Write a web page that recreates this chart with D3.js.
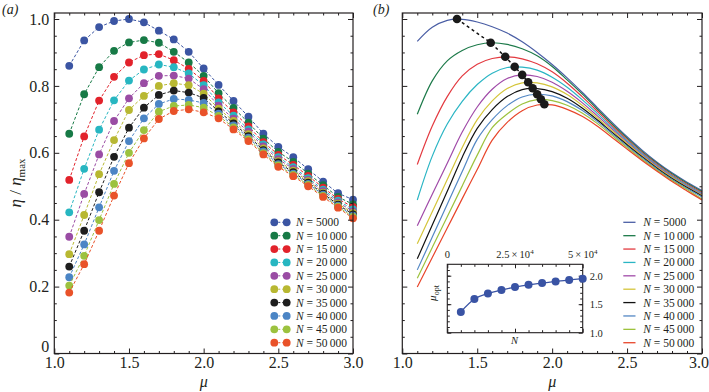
<!DOCTYPE html>
<html>
<head>
<meta charset="utf-8">
<script src="https://cdn.jsdelivr.net/npm/d3@7"></script>
<style>
  body { margin: 0; background: #fff; }
  svg text { font-family: "Liberation Serif", "Times New Roman", serif; fill: #231f20; }
  .tick line { stroke: #231f20; }
</style>
</head>
<body>
<svg id="chart" width="709" height="392"></svg>
<script>
// mu grid shared by both panels
const mu = [1.1, 1.2, 1.3, 1.4, 1.5, 1.6, 1.7, 1.8, 1.9, 2.0, 2.1, 2.2, 2.3, 2.4, 2.5, 2.6, 2.7, 2.8, 2.9, 3.0];
const nLabels = ['5000', '10\u2009000', '15\u2009000', '20\u2009000', '25\u2009000', '30\u2009000', '35\u2009000', '40\u2009000', '45\u2009000', '50\u2009000'];
const nValues = [5000, 10000, 15000, 20000, 25000, 30000, 35000, 40000, 45000, 50000];

// panel (a): simulated points
const a5000  = [0.860, 0.936, 0.976, 0.994, 1.000, 0.990, 0.965, 0.939, 0.902, 0.852, 0.803, 0.755, 0.708, 0.657, 0.618, 0.587, 0.551, 0.514, 0.479, 0.460];
const a10000 = [0.657, 0.775, 0.856, 0.905, 0.930, 0.937, 0.929, 0.902, 0.870, 0.830, 0.778, 0.734, 0.690, 0.642, 0.603, 0.573, 0.538, 0.503, 0.468, 0.446];
const a15000 = [0.519, 0.649, 0.756, 0.827, 0.870, 0.892, 0.895, 0.877, 0.851, 0.815, 0.763, 0.721, 0.679, 0.632, 0.594, 0.564, 0.531, 0.496, 0.462, 0.438];
const a20000 = [0.422, 0.552, 0.669, 0.757, 0.816, 0.849, 0.864, 0.856, 0.837, 0.802, 0.751, 0.711, 0.670, 0.625, 0.587, 0.557, 0.524, 0.490, 0.457, 0.431];
const a25000 = [0.349, 0.477, 0.595, 0.695, 0.763, 0.808, 0.830, 0.831, 0.822, 0.790, 0.741, 0.702, 0.663, 0.619, 0.581, 0.552, 0.519, 0.485, 0.452, 0.425];
const a30000 = [0.297, 0.414, 0.536, 0.638, 0.728, 0.770, 0.800, 0.808, 0.802, 0.777, 0.732, 0.695, 0.656, 0.613, 0.575, 0.547, 0.515, 0.481, 0.448, 0.420];
const a35000 = [0.260, 0.367, 0.482, 0.588, 0.675, 0.735, 0.773, 0.786, 0.780, 0.764, 0.724, 0.688, 0.650, 0.608, 0.571, 0.542, 0.511, 0.478, 0.445, 0.416];
const a40000 = [0.228, 0.326, 0.437, 0.546, 0.635, 0.703, 0.746, 0.761, 0.758, 0.749, 0.717, 0.682, 0.645, 0.604, 0.566, 0.538, 0.507, 0.475, 0.442, 0.412];
const a45000 = [0.203, 0.292, 0.399, 0.507, 0.600, 0.668, 0.723, 0.740, 0.743, 0.735, 0.710, 0.676, 0.640, 0.599, 0.562, 0.534, 0.504, 0.471, 0.439, 0.408];
const a50000 = [0.182, 0.267, 0.367, 0.472, 0.569, 0.643, 0.701, 0.725, 0.730, 0.721, 0.703, 0.670, 0.635, 0.595, 0.558, 0.530, 0.500, 0.468, 0.436, 0.404];

// panel (b): continuous curves
const b5000  = [0.933, 0.975, 0.996, 0.999, 0.991, 0.977, 0.958, 0.932, 0.900, 0.864, 0.824, 0.781, 0.736, 0.691, 0.648, 0.608, 0.572, 0.540, 0.512, 0.487];
const b10000 = [0.715, 0.815, 0.875, 0.906, 0.923, 0.929, 0.924, 0.911, 0.890, 0.858, 0.818, 0.776, 0.731, 0.686, 0.644, 0.604, 0.569, 0.537, 0.509, 0.484];
const b15000 = [0.565, 0.680, 0.768, 0.830, 0.865, 0.882, 0.887, 0.881, 0.866, 0.842, 0.808, 0.768, 0.725, 0.681, 0.640, 0.601, 0.566, 0.534, 0.506, 0.481];
const b20000 = [0.459, 0.590, 0.686, 0.754, 0.804, 0.838, 0.855, 0.856, 0.847, 0.826, 0.796, 0.759, 0.718, 0.676, 0.636, 0.598, 0.563, 0.531, 0.503, 0.478];
const b25000 = [0.382, 0.476, 0.569, 0.662, 0.737, 0.790, 0.822, 0.833, 0.828, 0.811, 0.784, 0.750, 0.711, 0.671, 0.632, 0.594, 0.560, 0.528, 0.500, 0.476];
const b30000 = [0.328, 0.424, 0.520, 0.616, 0.699, 0.755, 0.792, 0.809, 0.809, 0.797, 0.774, 0.742, 0.705, 0.666, 0.628, 0.591, 0.557, 0.526, 0.498, 0.474];
const b35000 = [0.283, 0.384, 0.485, 0.587, 0.673, 0.729, 0.768, 0.789, 0.792, 0.783, 0.763, 0.734, 0.699, 0.661, 0.624, 0.588, 0.554, 0.523, 0.496, 0.471];
const b40000 = [0.250, 0.348, 0.446, 0.544, 0.640, 0.699, 0.741, 0.767, 0.775, 0.770, 0.753, 0.727, 0.694, 0.657, 0.620, 0.585, 0.551, 0.520, 0.493, 0.468];
const b45000 = [0.225, 0.317, 0.409, 0.501, 0.593, 0.675, 0.716, 0.746, 0.759, 0.756, 0.742, 0.719, 0.688, 0.652, 0.616, 0.581, 0.548, 0.517, 0.490, 0.462];
const b50000 = [0.199, 0.287, 0.375, 0.463, 0.550, 0.638, 0.691, 0.726, 0.743, 0.743, 0.730, 0.709, 0.680, 0.646, 0.611, 0.577, 0.545, 0.514, 0.486, 0.459];

// peaks of the (b) curves = optimum mu (also the inset)
const muOpt  = [1.365, 1.59, 1.687, 1.75, 1.80, 1.84, 1.87, 1.90, 1.925, 1.948];
const etaOpt = [1.000, 0.929, 0.887, 0.857, 0.833, 0.811, 0.793, 0.775, 0.760, 0.745];

const xMajor = [1.0, 1.5, 2.0, 2.5, 3.0];
const yMajor = [0, 0.2, 0.4, 0.6, 0.8, 1.0];
const insetXLabels = [0, 25000, 50000];
const insetYMajor = [1.0, 1.5, 2.0];

const colorsA = ['#3b55a3', '#177a46', '#e2222b', '#27b6c1', '#9a4ca4', '#b8b832', '#1e1e1e', '#4b85c5', '#9cc23f', '#e95229'];
const colorsB = ['#4a5ea5', '#1d7a4a', '#e33a40', '#2ab5c4', '#a04aa8', '#d4c53a', '#111111', '#5387c4', '#9dc23d', '#e8452a'];

const seriesA = [a5000, a10000, a15000, a20000, a25000, a30000, a35000, a40000, a45000, a50000];
const seriesB = [b5000, b10000, b15000, b20000, b25000, b30000, b35000, b40000, b45000, b50000];

const svg = d3.select('#chart');
const ink = '#231f20';

const plotTop = 13, plotBottom = 353.5;
const yScale = d3.scaleLinear().domain([0, 1]).range([plotBottom, 19]);
const xA = d3.scaleLinear().domain([1, 3]).range([54.3, 353]);
const xB = d3.scaleLinear().domain([1, 3]).range([402.3, 702]);

const xMinor = d3.range(1.1, 3.0, 0.1).filter(v => Math.abs(v * 2 - Math.round(v * 2)) > 0.01);
const yMinor = d3.range(0.05, 1.0, 0.05).filter(v => Math.abs(v * 5 - Math.round(v * 5)) > 0.01);

function frame(x, labelsY, clipLast) {
  const g = svg.append('g');
  const left = x.range()[0], right = x.range()[1];
  const fmt = d => d === 0 ? '0' : d.toFixed(1);

  const xAxis = g.append('g').attr('transform', `translate(0,${plotBottom})`)
    .call(d3.axisBottom(x).tickValues(xMajor).tickSize(-5).tickPadding(3).tickFormat(d3.format('.1f')));
  g.append('g').attr('transform', `translate(0,${plotBottom})`)
    .call(d3.axisBottom(x).tickValues(xMinor).tickSize(-2.5).tickFormat(''));
  g.append('g').attr('transform', `translate(0,${plotTop})`)
    .call(d3.axisTop(x).tickValues(xMajor).tickSize(-5).tickFormat(''));
  g.append('g').attr('transform', `translate(0,${plotTop})`)
    .call(d3.axisTop(x).tickValues(xMinor).tickSize(-2.5).tickFormat(''));

  const yAxis = g.append('g').attr('transform', `translate(${left},0)`)
    .call(d3.axisLeft(yScale).tickValues(yMajor).tickSize(-5).tickPadding(5).tickFormat(labelsY ? fmt : ''));
  g.append('g').attr('transform', `translate(${left},0)`)
    .call(d3.axisLeft(yScale).tickValues(yMinor).tickSize(-2.5).tickFormat(''));
  g.append('g').attr('transform', `translate(${right},0)`)
    .call(d3.axisRight(yScale).tickValues(yMajor).tickSize(-5).tickFormat(''));
  g.append('g').attr('transform', `translate(${right},0)`)
    .call(d3.axisRight(yScale).tickValues(yMinor).tickSize(-2.5).tickFormat(''));

  g.selectAll('.domain').remove();
  g.selectAll('.tick text').attr('font-size', 16).attr('fill', ink);
  // the "0" sits just above the corner
  yAxis.selectAll('.tick text').filter(d => d === 0).attr('dy', '-0.12em');
  if (clipLast) {
    xAxis.selectAll('.tick text').filter(d => d === 3).attr('text-anchor', 'end').attr('dx', 6.5);
  }

  g.append('rect')
    .attr('x', left).attr('y', plotTop)
    .attr('width', right - left).attr('height', plotBottom - plotTop)
    .attr('fill', 'none').attr('stroke', ink).attr('stroke-width', 1.2);

  svg.append('text')
    .attr('x', (left + right) / 2).attr('y', 387)
    .attr('text-anchor', 'middle').attr('font-size', 16).attr('font-style', 'italic')
    .text('\u03bc');
}

function legendText(g, x, y, label) {
  const t = g.append('text').attr('x', x).attr('y', y).attr('dy', '0.35em').attr('font-size', 11.5);
  t.append('tspan').attr('font-style', 'italic').text('N');
  t.append('tspan').text(' = ' + label);
}

// ---------- panel (a) ----------
const chartA = svg.append('g');
const lineA = d3.line().x((d, i) => xA(mu[i])).y(d => yScale(d));

seriesA.forEach((s, k) => {
  chartA.append('path')
    .attr('d', lineA(s))
    .attr('fill', 'none')
    .attr('stroke', colorsA[k])
    .attr('stroke-width', 1)
    .attr('stroke-dasharray', '3,2');
  chartA.selectAll(null)
    .data(s)
    .enter()
    .append('circle')
    .attr('cx', (d, i) => xA(mu[i]))
    .attr('cy', d => yScale(d))
    .attr('r', 3.9)
    .attr('fill', colorsA[k]);
});

frame(xA, true, false);

const legA = svg.append('g');
nLabels.forEach((lab, k) => {
  const y = 222.3 + k * 13.38;
  legA.append('line').attr('x1', 274.3).attr('x2', 286.7).attr('y1', y).attr('y2', y)
    .attr('stroke', colorsA[k]).attr('stroke-dasharray', '2,2');
  legA.append('circle').attr('cx', 274.3).attr('cy', y).attr('r', 3.9).attr('fill', colorsA[k]);
  legA.append('circle').attr('cx', 286.7).attr('cy', y).attr('r', 3.9).attr('fill', colorsA[k]);
  legendText(legA, 296, y, lab);
});

const yLab = svg.append('text')
  .attr('transform', 'translate(21,183) rotate(-90)')
  .attr('text-anchor', 'middle')
  .attr('font-size', 17);
yLab.append('tspan').attr('font-style', 'italic').text('\u03b7');
yLab.append('tspan').text(' / ');
yLab.append('tspan').attr('font-style', 'italic').text('\u03b7');
yLab.append('tspan').attr('font-size', 11).attr('dy', 4).text('max');

svg.append('text').attr('x', 2).attr('y', 14).attr('font-size', 14).attr('font-style', 'italic').text('(a)');

// ---------- panel (b) ----------
const chartB = svg.append('g');
const lineB = d3.line().x((d, i) => xB(mu[i])).y(d => yScale(d)).curve(d3.curveCatmullRom.alpha(0.5));

seriesB.forEach((s, k) => {
  chartB.append('path')
    .attr('d', lineB(s))
    .attr('fill', 'none')
    .attr('stroke', colorsB[k])
    .attr('stroke-width', 1.2);
});

const peakLine = d3.line().x((d, i) => xB(muOpt[i])).y(d => yScale(d));
chartB.append('path')
  .attr('d', peakLine(etaOpt))
  .attr('fill', 'none')
  .attr('stroke', '#111')
  .attr('stroke-width', 1.5)
  .attr('stroke-dasharray', '3,3');
chartB.selectAll(null)
  .data(etaOpt)
  .enter()
  .append('circle')
  .attr('cx', (d, i) => xB(muOpt[i]))
  .attr('cy', d => yScale(d))
  .attr('r', 4.3)
  .attr('fill', '#1a1a1a');

frame(xB, false, true);

const legB = svg.append('g');
nLabels.forEach((lab, k) => {
  const y = 222.3 + k * 13.38;
  legB.append('line').attr('x1', 623.3).attr('x2', 635.5).attr('y1', y).attr('y2', y)
    .attr('stroke', colorsB[k]).attr('stroke-width', 1.3);
  legendText(legB, 643.3, y, lab);
});

svg.append('text').attr('x', 373).attr('y', 14).attr('font-size', 14).attr('font-style', 'italic').text('(b)');

// ---------- inset ----------
const inset = svg.append('g');
const ix = d3.scaleLinear().domain([0, 50000]).range([447.3, 582.7]);
const iy = d3.scaleLinear().domain([1.0, 2.2]).range([332.7, 264.3]);

inset.append('g').attr('transform', 'translate(0,264.3)')
  .call(d3.axisTop(ix).tickValues([0, 25000, 50000]).tickSize(-4).tickFormat(''));
inset.append('g').attr('transform', 'translate(0,264.3)')
  .call(d3.axisTop(ix).tickValues(d3.range(5000, 50000, 5000)).tickSize(-2.5).tickFormat(''));
inset.append('g').attr('transform', 'translate(0,332.7)')
  .call(d3.axisBottom(ix).tickValues([0, 25000, 50000]).tickSize(-4).tickFormat(''));
inset.append('g').attr('transform', 'translate(0,332.7)')
  .call(d3.axisBottom(ix).tickValues(d3.range(5000, 50000, 5000)).tickSize(-2.5).tickFormat(''));
inset.append('g').attr('transform', 'translate(447.3,0)')
  .call(d3.axisLeft(iy).tickValues(insetYMajor).tickSize(-4).tickFormat(''));
inset.append('g').attr('transform', 'translate(447.3,0)')
  .call(d3.axisLeft(iy).tickValues(d3.range(1.1, 2.2, 0.1)).tickSize(-2.5).tickFormat(''));
inset.append('g').attr('transform', 'translate(582.7,0)')
  .call(d3.axisRight(iy).tickValues(insetYMajor).tickSize(-4).tickPadding(7).tickFormat(d3.format('.1f')));
inset.append('g').attr('transform', 'translate(582.7,0)')
  .call(d3.axisRight(iy).tickValues(d3.range(1.1, 2.2, 0.1)).tickSize(-2.5).tickFormat(''));
inset.selectAll('.domain').remove();
inset.selectAll('.tick text').attr('font-size', 10.5).attr('fill', ink);

inset.append('rect')
  .attr('x', 447.3).attr('y', 264.3).attr('width', 135.4).attr('height', 68.4)
  .attr('fill', 'none').attr('stroke', ink).attr('stroke-width', 1.1);

insetXLabels.forEach(v => {
  const t = inset.append('text').attr('x', ix(v)).attr('y', 257.5)
    .attr('text-anchor', 'middle').attr('font-size', 10.5);
  if (v === 0) { t.text('0'); return; }
  t.append('tspan').text((v / 10000) + '\u2009\u00d7\u200910');
  t.append('tspan').attr('font-size', 7).attr('dy', -4).text('4');
});

const iLine = d3.line().x((d, i) => ix(nValues[i])).y(d => iy(d)).curve(d3.curveMonotoneX);
inset.append('path')
  .attr('d', iLine(muOpt))
  .attr('fill', 'none').attr('stroke', '#3953a4').attr('stroke-width', 1.3);
inset.selectAll(null)
  .data(muOpt)
  .enter()
  .append('circle')
  .attr('cx', (d, i) => ix(nValues[i]))
  .attr('cy', d => iy(d))
  .attr('r', 4)
  .attr('fill', '#3953a4');

const iyLab = inset.append('text')
  .attr('transform', 'translate(436,293) rotate(-90)')
  .attr('text-anchor', 'middle').attr('font-size', 11);
iyLab.append('tspan').attr('font-style', 'italic').text('\u03bc');
iyLab.append('tspan').attr('font-size', 8).attr('dy', 3).text('opt');

inset.append('text').attr('x', 514.5).attr('y', 344).attr('text-anchor', 'middle')
  .attr('font-size', 10.5).attr('font-style', 'italic').text('N');
</script>
</body>
</html>
